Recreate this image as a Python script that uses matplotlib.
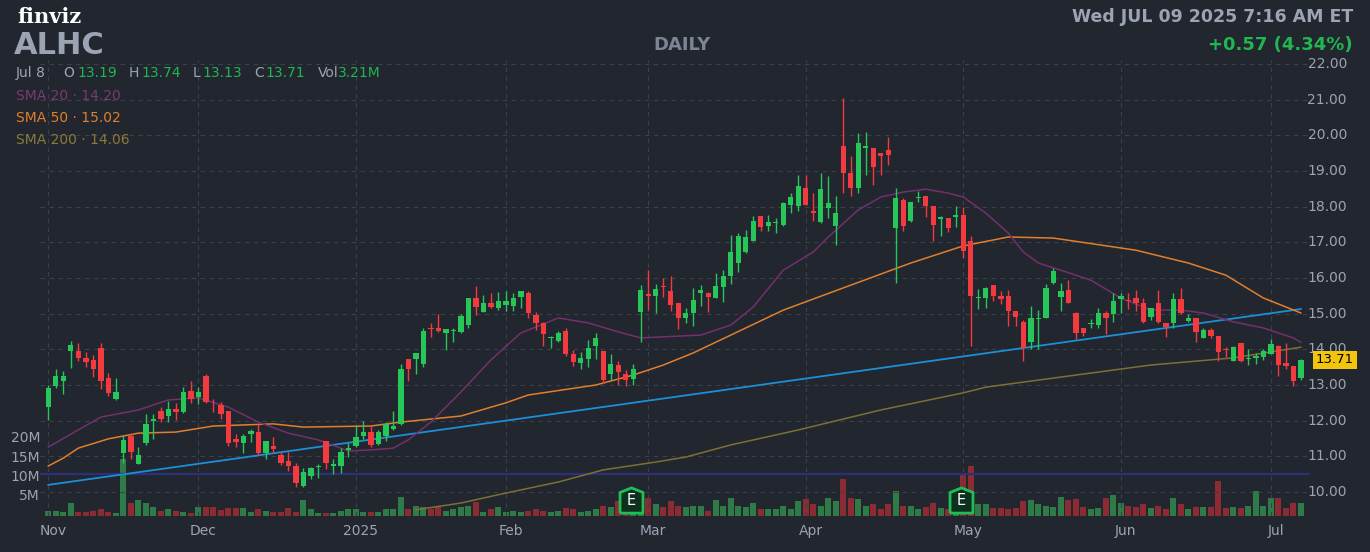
import matplotlib
matplotlib.use("Agg")
import matplotlib.pyplot as plt
import numpy as np
import pandas as pd

W, H = 1370, 552

# ---- data ----
holidays = ["2024-11-28", "2024-12-25", "2025-01-01", "2025-01-09", "2025-01-20",
            "2025-02-17", "2025-04-18", "2025-05-26", "2025-06-19", "2025-07-04"]
dates = pd.bdate_range("2024-11-01", "2025-07-08", freq="C", holidays=holidays)

opens = [12.39, 12.97, 13.12, 13.96, 13.95, 13.75, 13.70, 14.05, 13.21, 12.62,
         11.09, 11.57, 10.79, 11.36, 12.00, 12.28, 12.14, 12.34, 12.25, 12.83,
         12.67, 13.25, 12.53, 12.44, 12.28, 11.50, 11.36, 11.64, 11.67, 11.09,
         11.29, 11.04, 10.87, 10.73, 10.18, 10.46, 10.70, 11.44, 10.74, 10.74,
         11.19, 11.30, 11.58, 11.67, 11.34, 11.58, 11.76, 11.92, 13.74, 13.72,
         13.58, 14.61, 14.61, 14.45, 14.52, 14.49, 14.68, 15.45, 15.05, 15.29,
         15.17, 15.24, 15.22, 15.47, 15.57, 14.96, 14.73, 14.33, 14.24, 14.52,
         13.86, 13.62, 13.74, 14.09, 13.95, 13.32, 13.56, 13.32, 13.16, 15.05,
         15.56, 15.50, 15.77, 15.63, 15.31, 14.87, 15.01, 15.57, 15.57, 15.43,
         15.76, 16.07, 16.41, 16.72, 17.05, 17.74, 17.47, 17.53, 17.49, 18.05,
         18.03, 18.51, 17.88, 17.56, 17.95, 17.46, 19.70, 18.93, 18.51, 19.64,
         19.64, 19.50, 19.59, 17.39, 18.19, 17.61, 18.24, 18.30, 18.02, 17.65,
         17.67, 17.72, 17.77, 17.04, 15.43, 15.43, 15.81, 15.50, 15.49, 15.07,
         14.77, 14.21, 14.85, 14.87, 15.87, 15.47, 15.66, 15.01, 14.61, 14.71,
         14.68, 15.01, 14.98, 15.40, 15.38, 15.43, 15.29, 14.91, 15.31, 14.75,
         14.74, 15.41, 14.79, 14.88, 14.31, 14.54, 14.37, 14.00, 13.68, 14.17,
         13.74, 13.76, 13.79, 13.88, 14.09, 13.63, 13.53, 13.19]
highs = [13.00, 13.44, 13.40, 14.24, 14.19, 13.93, 13.84, 14.17, 13.35, 13.19,
         11.60, 11.64, 11.25, 12.20, 12.19, 12.37, 12.56, 12.49, 12.95, 13.11,
         12.95, 13.31, 12.62, 12.53, 12.28, 11.64, 11.64, 11.78, 11.91, 11.44,
         11.53, 11.13, 11.13, 10.80, 10.66, 10.71, 10.79, 11.44, 10.92, 11.22,
         11.38, 11.85, 12.00, 11.88, 11.74, 11.97, 12.27, 13.60, 13.74, 13.89,
         14.59, 14.75, 15.00, 14.57, 14.61, 15.00, 15.45, 15.77, 15.52, 15.59,
         15.61, 15.64, 15.57, 15.63, 15.63, 15.05, 14.77, 14.37, 14.51, 14.61,
         13.98, 13.93, 14.26, 14.45, 13.95, 13.88, 13.68, 13.42, 13.60, 15.80,
         16.22, 15.83, 16.00, 16.05, 15.31, 15.17, 15.71, 15.81, 15.62, 16.15,
         16.23, 17.21, 17.25, 17.35, 17.74, 17.74, 17.77, 17.67, 18.14, 18.39,
         18.89, 18.89, 18.37, 18.94, 18.86, 18.30, 21.04, 19.42, 20.06, 20.10,
         19.64, 19.50, 19.94, 18.51, 18.23, 18.14, 18.44, 18.30, 18.02, 17.74,
         17.67, 18.02, 17.98, 17.18, 15.69, 15.76, 15.81, 15.64, 15.66, 15.07,
         14.82, 15.21, 15.10, 15.82, 16.27, 15.87, 15.94, 15.05, 14.61, 14.84,
         15.17, 15.07, 15.57, 15.57, 15.58, 15.66, 15.43, 15.17, 15.66, 14.75,
         15.57, 15.71, 15.00, 14.88, 14.59, 14.59, 14.37, 14.07, 14.09, 14.17,
         14.00, 13.90, 14.02, 14.30, 14.12, 14.17, 13.53, 13.74]
lows = [12.02, 12.91, 12.75, 13.47, 13.68, 13.51, 13.23, 12.88, 12.69, 12.58,
        10.80, 10.92, 10.79, 11.32, 11.50, 11.95, 11.97, 12.02, 12.21, 12.50,
        12.47, 12.49, 12.25, 12.06, 11.29, 11.27, 11.08, 11.41, 11.04, 10.92,
        11.10, 10.76, 10.60, 10.15, 10.15, 10.36, 10.38, 10.64, 10.50, 10.52,
        10.99, 11.27, 11.50, 11.27, 11.32, 11.44, 11.74, 11.88, 13.11, 13.32,
        13.51, 14.35, 14.49, 13.98, 14.21, 14.46, 14.59, 14.96, 15.05, 15.15,
        15.10, 15.08, 15.08, 15.15, 14.88, 14.54, 14.09, 14.03, 14.21, 13.81,
        13.53, 13.46, 13.51, 13.74, 13.06, 13.14, 13.00, 12.97, 12.99, 14.21,
        15.10, 15.01, 15.47, 15.08, 14.56, 14.73, 14.66, 15.22, 15.06, 15.43,
        15.34, 15.82, 16.18, 16.69, 17.05, 17.33, 17.33, 17.25, 17.46, 17.81,
        17.89, 18.05, 17.61, 17.53, 17.67, 16.93, 18.37, 18.30, 18.37, 18.89,
        18.61, 18.89, 19.17, 15.87, 17.33, 17.58, 18.14, 17.72, 17.05, 17.18,
        17.30, 17.42, 16.55, 14.08, 15.12, 15.15, 15.36, 15.26, 14.65, 14.65,
        13.68, 14.00, 14.02, 14.87, 15.82, 15.07, 15.29, 14.30, 14.37, 14.59,
        14.61, 14.43, 14.77, 15.01, 15.12, 15.07, 14.74, 14.82, 14.74, 14.35,
        14.59, 14.98, 14.77, 14.21, 14.31, 14.31, 13.68, 13.79, 13.68, 13.65,
        13.56, 13.60, 13.70, 13.87, 13.25, 13.44, 12.97, 13.13]
closes = [12.91, 13.25, 13.25, 14.12, 13.75, 13.65, 13.44, 13.12, 12.78, 12.80,
          11.46, 11.13, 11.04, 11.92, 12.06, 12.04, 12.34, 12.25, 12.81, 12.60,
          12.81, 12.53, 12.51, 12.18, 11.36, 11.41, 11.57, 11.72, 11.09, 11.44,
          11.20, 10.80, 10.73, 10.24, 10.55, 10.66, 10.74, 10.80, 10.78, 11.11,
          11.22, 11.53, 11.67, 11.32, 11.69, 11.90, 11.85, 13.46, 13.46, 13.89,
          14.52, 14.58, 14.52, 14.57, 14.54, 14.93, 15.45, 15.19, 15.29, 15.19,
          15.35, 15.35, 15.43, 15.63, 15.01, 14.73, 14.42, 14.35, 14.47, 13.86,
          13.65, 13.77, 14.05, 14.33, 13.14, 13.60, 13.37, 13.14, 13.44, 15.66,
          15.50, 15.69, 15.75, 15.24, 14.87, 15.01, 15.39, 15.66, 15.46, 15.78,
          16.06, 16.72, 17.18, 17.14, 17.60, 17.44, 17.56, 17.56, 18.09, 18.26,
          18.58, 18.05, 17.81, 18.49, 18.09, 17.81, 18.93, 18.51, 19.78, 19.70,
          19.10, 19.43, 19.45, 18.23, 17.46, 18.12, 18.28, 18.02, 17.49, 17.70,
          17.39, 17.77, 16.77, 15.50, 15.46, 15.71, 15.50, 15.40, 15.07, 14.91,
          14.05, 14.87, 14.87, 15.73, 16.19, 15.63, 15.29, 14.45, 14.45, 14.75,
          15.01, 14.87, 15.36, 15.49, 15.35, 15.30, 14.77, 15.17, 14.77, 14.63,
          15.41, 15.02, 14.89, 14.49, 14.54, 14.37, 13.93, 13.98, 14.07, 13.68,
          13.76, 13.81, 13.95, 14.16, 13.56, 13.54, 13.12, 13.71]
volume_m = [1.4, 1.4, 1.1, 3.3, 1.1, 1.1, 1.4, 1.8, 1.1, 0.7,
            14.7, 3.3, 4.0, 3.3, 2.3, 1.4, 1.8, 1.4, 1.1, 0.7,
            2.3, 2.3, 2.3, 1.6, 2.0, 2.0, 2.0, 1.1, 1.8, 1.4,
            1.1, 1.1, 2.0, 1.1, 4.0, 1.8, 0.7, 0.7, 0.7, 1.4,
            1.8, 1.8, 1.1, 1.1, 1.1, 1.8, 1.8, 4.9, 1.8, 2.5,
            2.3, 1.8, 2.3, 1.4, 1.8, 2.3, 2.6, 3.5, 1.1, 1.8,
            2.3, 1.1, 1.4, 1.1, 1.4, 1.8, 1.4, 1.1, 1.4, 2.0,
            1.8, 1.1, 1.4, 1.8, 2.6, 2.3, 3.8, 3.0, 2.3, 2.9,
            4.5, 3.2, 2.3, 3.8, 2.6, 2.3, 2.6, 2.6, 1.4, 4.0,
            2.6, 4.6, 2.6, 2.3, 3.3, 1.8, 1.8, 1.8, 2.6, 1.8,
            3.8, 4.4, 3.2, 2.6, 4.6, 3.8, 9.6, 4.6, 4.4, 2.6,
            3.2, 1.8, 3.2, 6.4, 2.6, 2.6, 1.8, 2.3, 3.3, 2.0,
            1.8, 1.6, 10.4, 12.8, 3.2, 3.2, 2.0, 2.0, 1.8, 2.0,
            3.8, 4.0, 3.2, 2.6, 2.3, 4.9, 4.0, 4.4, 2.3, 1.8,
            2.0, 4.6, 5.3, 3.3, 2.6, 2.3, 3.2, 2.0, 2.6, 1.8,
            4.6, 3.2, 1.8, 2.3, 2.3, 2.3, 9.0, 2.0, 2.3, 2.0,
            2.6, 6.4, 2.6, 4.6, 4.6, 2.0, 3.3, 3.21]

# moving averages, read at sample bars (1-based bar numbers)
sma20_bars = [1, 8, 13, 17, 21, 25, 29, 33, 37, 41, 44, 47, 49, 52, 56, 60, 64, 67, 69,
              73, 77, 80, 85, 88, 92, 95, 99, 103, 105, 109, 112, 115, 118, 121, 123,
              126, 129, 131, 133, 136, 140, 144, 148, 152, 155, 159, 163, 167, 168]
sma20 = [11.26, 12.10, 12.30, 12.58, 12.64, 12.38, 11.96, 11.65, 11.46, 11.15, 11.18,
         11.23, 11.46, 11.96, 12.80, 13.70, 14.46, 14.71, 14.88, 14.74, 14.49, 14.32,
         14.37, 14.40, 14.68, 15.19, 16.22, 16.73, 17.15, 17.91, 18.27, 18.41, 18.49,
         18.38, 18.27, 17.82, 17.26, 16.73, 16.42, 16.22, 15.94, 15.44, 15.10, 15.10,
         15.02, 14.77, 14.60, 14.32, 14.20]
sma50_bars = [1, 3, 5, 9, 13, 18, 23, 31, 35, 44, 48, 56, 62, 65, 74, 79, 83, 87, 94,
              99, 108, 116, 123, 129, 135, 146, 153, 158, 163, 168]
sma50 = [10.73, 10.95, 11.23, 11.49, 11.65, 11.68, 11.85, 11.91, 11.82, 11.85, 11.96,
         12.13, 12.50, 12.72, 13.00, 13.28, 13.56, 13.90, 14.60, 15.10, 15.80, 16.42,
         16.90, 17.15, 17.12, 16.78, 16.42, 16.08, 15.44, 15.02]
sma200_bars = [50, 56, 62, 69, 75, 82, 86, 92, 101, 112, 123, 126, 148, 159, 168]
sma200 = [9.50, 9.69, 9.97, 10.28, 10.62, 10.84, 10.98, 11.32, 11.74, 12.30, 12.78,
          12.94, 13.56, 13.76, 14.06]
trend_bars = [1, 168]
trend_vals = [10.20, 15.13]
hline_price = 10.50
earnings_bars = [78.7, 122.7]
price_ticks = np.arange(10, 23, 1)
vol_ticks = [5, 10, 15, 20]

# ---- style ----
BG = "#22262f"
GRID = "#3b404c"
UP, DN = "#26c659", "#f23a3f"
VUP, VDN = "#2e7b47", "#8c2b33"
TXT = "#9ca3b3"

fig = plt.figure(figsize=(W / 100, H / 100), dpi=100, facecolor=BG)

def px(x, y):
    return x / W, 1 - y / H

left, right, top, bottom = 40, 1310, 60, 516
ax = fig.add_axes([left / W, 1 - bottom / H, (right - left) / W, (bottom - top) / H])
ax.set_facecolor(BG)
spacing = 7.5
x0 = 1 - (48.3 - left) / spacing
ax.set_xlim(x0, x0 + (right - left) / spacing)
ppd = 35.67
ax.set_ylim(10 - (bottom - 492) / ppd, 22 + (64 - top) / ppd)
for s in ax.spines.values():
    s.set_visible(False)
ax.set_xticks([])
ax.set_yticks([])

bars = np.arange(1, len(closes) + 1)
months = pd.Series(dates.month)
month_starts = [0] + [i for i in range(1, len(dates)) if months[i] != months[i - 1]]
for p in price_ticks:
    ax.axhline(p, color=GRID, lw=0.8, ls=(0, (4, 4)), zorder=0)
for i in month_starts:
    ax.axvline(bars[i], color=GRID, lw=0.8, ls=(0, (4, 4)), zorder=0)

# volume on its own axis
vax = ax.twinx()
vax.set_ylim(0, 20 / 78 * (bottom - top))
vax.set_xlim(ax.get_xlim())
vax.axis("off")
vcol = [VUP if c >= o else VDN for o, c in zip(opens, closes)]
vax.bar(bars, volume_m, width=0.8, color=vcol, zorder=1)

ax.set_zorder(vax.get_zorder() + 1)
ax.patch.set_visible(False)

ax.axhline(hline_price, color="#2c3078", lw=1.6, zorder=1)
ax.plot(trend_bars, trend_vals, color="#1d8fd6", lw=1.3, zorder=2)
ax.plot(sma200_bars, sma200, color="#7d7036", lw=1.1, zorder=2)
ax.plot(sma50_bars, sma50, color="#e07f2e", lw=1.1, zorder=2)
ax.plot(sma20_bars, sma20, color="#74306c", lw=1.1, zorder=2)

for b, o, h, l, c in zip(bars, opens, highs, lows, closes):
    col = UP if c >= o else DN
    ax.vlines(b, l, h, color=col, lw=1, zorder=3)
    body = max(abs(c - o), 0.02)
    ax.bar(b, body, bottom=min(o, c), width=0.72, color=col, zorder=4)

# earnings markers (house-shaped badge)
house = [(-1, -1.1), (1, -1.1), (1, 0.7), (0, 1.1), (-1, 0.7), (-1, -1.1)]
for eb in earnings_bars:
    ax.scatter(eb, 9.78, marker=house, s=330, facecolor="#10301f", edgecolor="#1fbf55",
               lw=2, zorder=6)
    ax.text(eb, 9.76, "E", color="white", fontsize=10.5, ha="center", va="center", zorder=7)

# axis labels
for p in price_ticks:
    y = 492 - (p - 10) * ppd
    fig.text(*px(1347, y), f"{p:.2f}", color=TXT, fontsize=10, ha="right", va="center")
for v in vol_ticks:
    y = bottom - v * 3.9
    fig.text(*px(40, y), f"{v}M", color=TXT, fontsize=10, ha="right", va="center")
for i in month_starts:
    d = dates[i]
    lab = str(d.year) if d.month == 1 else d.strftime("%b")
    xx = 48.3 + (bars[i] - 1) * spacing
    fig.text(*px(xx + 5, 531), lab, color=TXT, fontsize=10, ha="center", va="center")

# last price tag
yl = 492 - (closes[-1] - 10) * ppd
fig.text(*px(1316, yl), f"{closes[-1]:.2f}", color="black", fontsize=9.5, ha="left",
         va="center", bbox=dict(boxstyle="square,pad=0.2", fc="#f1c40f", ec="none"))

# header texts
fig.text(*px(17, 17), "finviz", color="white", fontsize=15, weight="bold",
         family="DejaVu Serif", va="center")
fig.text(*px(14, 46), "ALHC", color=TXT, fontsize=22, weight="bold", va="center")
fig.text(*px(682, 45), "DAILY", color="#7d8493", fontsize=13, weight="bold",
         ha="center", va="center")
fig.text(*px(1353, 17), "Wed JUL 09 2025 7:16 AM ET", color=TXT, fontsize=12.5,
         weight="bold", ha="right", va="center")
fig.text(*px(1353, 45), "+0.57 (4.34%)", color="#20b650", fontsize=13, weight="bold",
         ha="right", va="center")

G = "#20b650"
row = [(16, "Jul 8", TXT), (63, "O", TXT), (77, "13.19", G), (129, "H", TXT),
       (141, "13.74", G), (193, "L", TXT), (202, "13.13", G), (254, "C", TXT),
       (265, "13.71", G), (318, "Vol", TXT), (338, "3.21M", G)]
for x, t, c in row:
    fig.text(*px(x, 73), t, color=c, fontsize=10, va="center")
legend = [("SMA 20 · 14.20", "#7a3a72", 96), ("SMA 50 · 15.02", "#e07f2e", 118),
          ("SMA 200 · 14.06", "#8a7a3c", 140)]
for t, c, y in legend:
    fig.text(*px(16, y), t, color=c, fontsize=10, va="center")

fig.savefig("out.png", dpi=100, facecolor=BG)
